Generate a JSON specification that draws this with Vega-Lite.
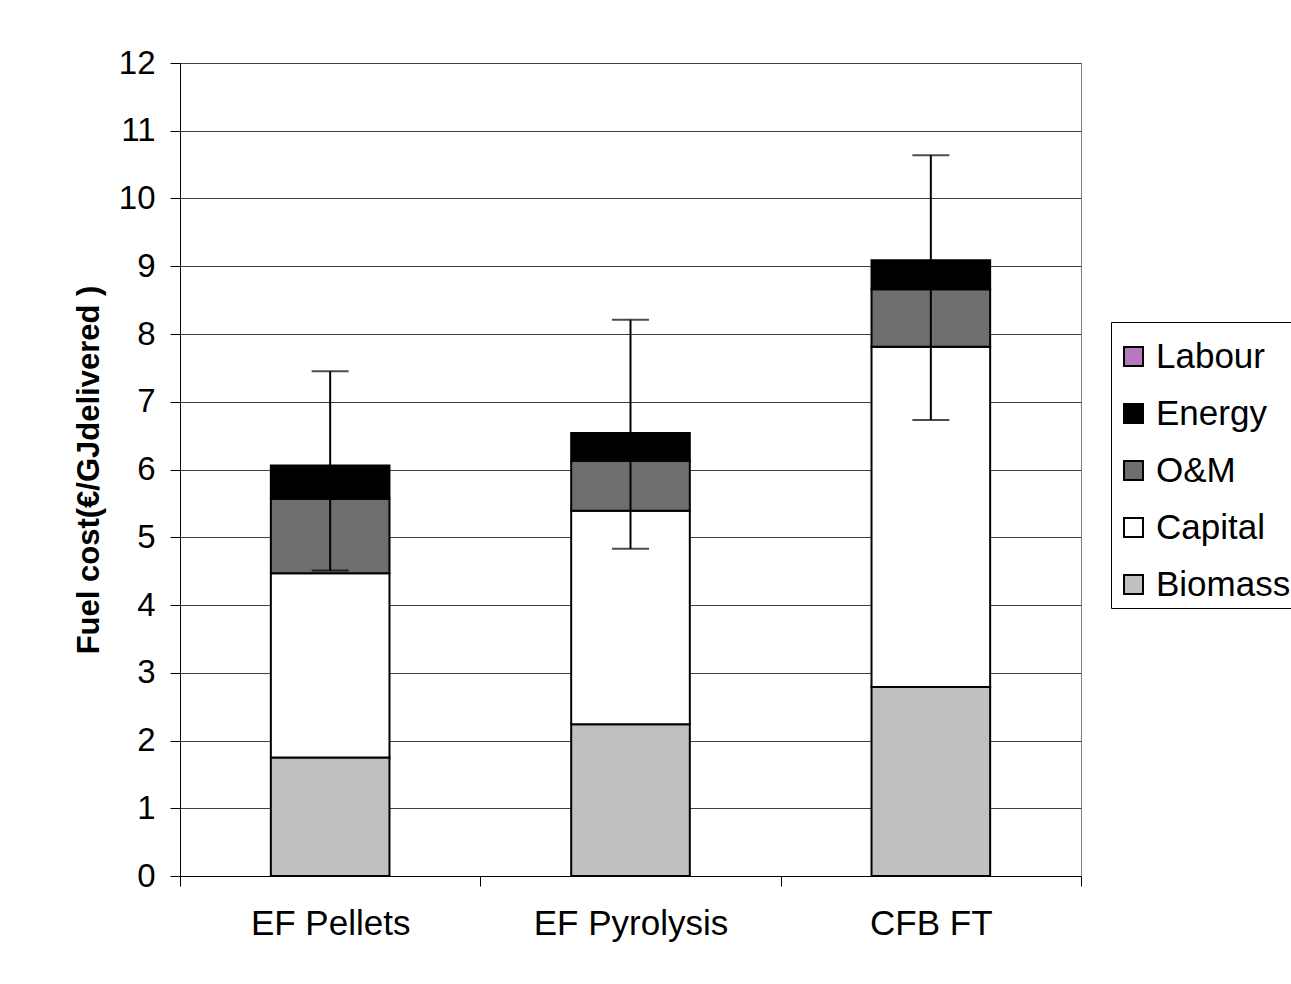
{
  "$schema": "https://vega.github.io/schema/vega-lite/v6.json",
  "width": 901,
  "height": 813,
  "autosize": {"type": "none"},
  "padding": {"left": 180, "top": 63, "right": 210, "bottom": 108},
  "background": "white",
  "config": {
    "font": "Liberation Sans",
    "view": {"stroke": "#808080", "strokeWidth": 1},
    "axis": {"labelFont": "Liberation Sans", "titleFont": "Liberation Sans", "labelColor": "black", "titleColor": "black", "domainColor": "black", "tickColor": "black"},
    "axisY": {"titleFontSize": 31, "titleFontWeight": "bold", "titlePadding": 13, "labelFontSize": 33, "labelPadding": 15, "tickSize": 10, "grid": true, "gridColor": "#404040", "gridWidth": 1, "gridOpacity": 1, "domainWidth": 1, "labelOverlap": false}
  },
  "datasets": {
    "costs": [
      {"route": "EF Pellets", "component": "Biomass", "k": 1, "value": 1.75},
      {"route": "EF Pellets", "component": "Capital", "k": 2, "value": 2.72},
      {"route": "EF Pellets", "component": "O&M", "k": 3, "value": 1.1},
      {"route": "EF Pellets", "component": "Energy", "k": 4, "value": 0.49},
      {"route": "EF Pyrolysis", "component": "Biomass", "k": 1, "value": 2.24},
      {"route": "EF Pyrolysis", "component": "Capital", "k": 2, "value": 3.15},
      {"route": "EF Pyrolysis", "component": "O&M", "k": 3, "value": 0.74},
      {"route": "EF Pyrolysis", "component": "Energy", "k": 4, "value": 0.41},
      {"route": "CFB FT", "component": "Biomass", "k": 1, "value": 2.79},
      {"route": "CFB FT", "component": "Capital", "k": 2, "value": 5.02},
      {"route": "CFB FT", "component": "O&M", "k": 3, "value": 0.85},
      {"route": "CFB FT", "component": "Energy", "k": 4, "value": 0.43}
    ],
    "errors": [
      {"route": "EF Pellets", "low": 4.51, "high": 7.45},
      {"route": "EF Pyrolysis", "low": 4.83, "high": 8.21},
      {"route": "CFB FT", "low": 6.73, "high": 10.64}
    ]
  },
  "encoding": {
    "x": {
      "field": "route",
      "type": "nominal",
      "sort": ["EF Pellets", "EF Pyrolysis", "CFB FT"],
      "scale": {"paddingInner": 0, "paddingOuter": 0},
      "axis": {"title": null, "labelAngle": 0, "labelFontSize": 35, "labelPadding": 20, "labelLimit": 0, "tickSize": 10, "tickBand": "extent", "domainWidth": 1, "tickWidth": 1}
    }
  },
  "layer": [
    {
      "data": {"name": "costs"},
      "mark": {"type": "bar", "stroke": "black", "strokeWidth": 2, "width": {"band": 0.395}},
      "encoding": {
        "y": {
          "field": "value",
          "type": "quantitative",
          "stack": "zero",
          "scale": {"domain": [0, 12], "nice": false},
          "axis": {"title": "Fuel cost(€/GJdelivered )", "values": [0,1,2,3,4,5,6,7,8,9,10,11,12]}
        },
        "color": {
          "field": "component",
          "type": "nominal",
          "scale": {"domain": ["Labour", "Energy", "O&M", "Capital", "Biomass"], "range": ["#B878C0", "#000000", "#6E6E6E", "#FFFFFF", "#C0C0C0"]},
          "legend": {
            "title": " ",
            "titleFontSize": 10,
            "titlePadding": 2,
            "orient": "none",
            "legendX": 931,
            "legendY": 259,
            "symbolType": "square",
            "symbolSize": 360,
            "symbolStrokeColor": "black",
            "symbolStrokeWidth": 2,
            "symbolOpacity": 1,
            "labelFontSize": 35,
            "labelFont": "Liberation Sans",
            "labelColor": "black",
            "labelOffset": 5,
            "labelLimit": 0,
            "rowPadding": 21,
            "strokeColor": "black",
            "fillColor": "white",
            "padding": 5
          }
        },
        "order": {"field": "k", "type": "quantitative"}
      }
    },
    {
      "data": {"name": "errors"},
      "mark": {"type": "rule", "color": "black", "strokeWidth": 2},
      "encoding": {
        "y": {"field": "low", "type": "quantitative", "axis": {"title": "Fuel cost(€/GJdelivered )", "values": [0,1,2,3,4,5,6,7,8,9,10,11,12]}},
        "y2": {"field": "high"}
      }
    },
    {
      "data": {"name": "errors"},
      "mark": {"type": "tick", "color": "black", "thickness": 2, "size": 37, "orient": "horizontal"},
      "encoding": {
        "y": {"field": "low", "type": "quantitative", "axis": {"title": "Fuel cost(€/GJdelivered )", "values": [0,1,2,3,4,5,6,7,8,9,10,11,12]}}
      }
    },
    {
      "data": {"name": "errors"},
      "mark": {"type": "tick", "color": "black", "thickness": 2, "size": 37, "orient": "horizontal"},
      "encoding": {
        "y": {"field": "high", "type": "quantitative", "axis": {"title": "Fuel cost(€/GJdelivered )", "values": [0,1,2,3,4,5,6,7,8,9,10,11,12]}}
      }
    }
  ]
}
